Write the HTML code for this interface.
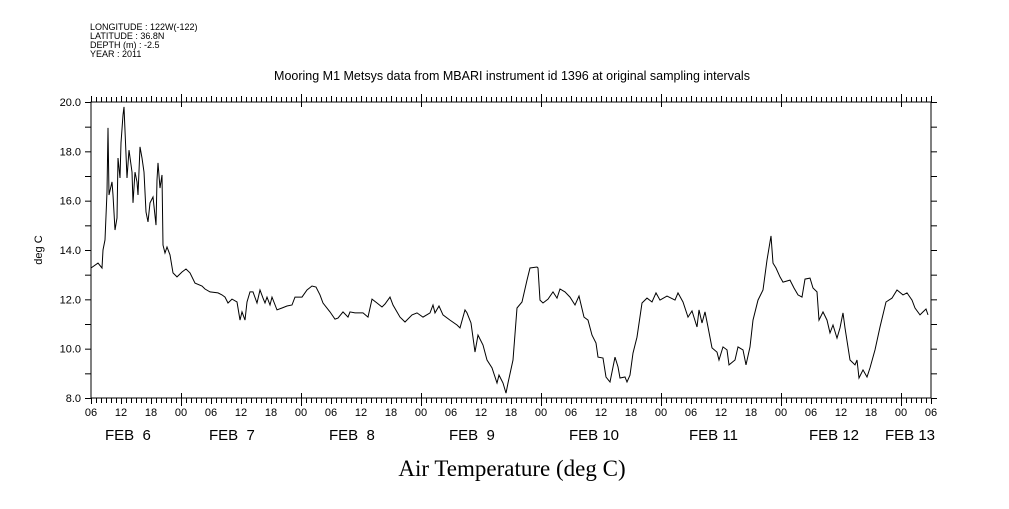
<!DOCTYPE html>
<html><head><meta charset="utf-8"><style>
body{margin:0;background:#fff;}
svg text{font-family:"Liberation Sans",sans-serif;fill:#000;}
</style></head><body>
<svg id="c" width="1009" height="504" xmlns="http://www.w3.org/2000/svg">
<text x="90" y="30" font-size="9">LONGITUDE : 122W(-122)</text>
<text x="90" y="39" font-size="9">LATITUDE : 36.8N</text>
<text x="90" y="48" font-size="9">DEPTH (m) : -2.5</text>
<text x="90" y="57" font-size="9">YEAR : 2011</text>
<text x="512" y="80" font-size="12.5" text-anchor="middle">Mooring M1 Metsys data from MBARI instrument id 1396 at original sampling intervals</text>
<text x="42" y="250" font-size="11" text-anchor="middle" transform="rotate(-90 42 250)">deg C</text>
<text x="512" y="476" font-size="23" text-anchor="middle" style="font-family:'Liberation Serif',serif">Air Temperature (deg C)</text>
<g id="axes"></g>
<path id="line" fill="none" stroke="#000" stroke-width="1"></path>
</svg>
<script>
// hours since Feb 6 06:00
const hours=[0,1.4,2.2,2.4,2.8,3.2,3.4,3.6,4.2,4.4,4.8,5.2,5.4,5.8,6.0,6.4,6.6,7.2,7.6,8.2,8.4,8.8,9.2,9.4,9.8,10.2,10.6,11.0,11.4,11.8,12.4,13.0,13.2,13.4,13.8,14.2,14.4,14.8,15.2,15.8,16.4,17.2,18.2,19.0,19.8,20.8,22.2,22.8,23.8,25.4,26.2,26.8,27.4,28.2,29.2,29.8,30.2,30.8,31.2,31.8,32.4,33.2,33.8,34.4,34.8,35.2,35.8,36.2,37.2,38.2,39.2,40.2,40.8,42.2,43.2,44.2,45.0,45.8,46.4,47.8,48.8,49.4,50.4,51.4,51.8,52.8,54.4,55.4,56.2,57.2,58.2,58.8,59.8,60.4,61.8,62.8,64.2,65.2,66.4,67.8,68.4,68.8,69.6,70.4,71.8,73.2,73.8,74.8,75.2,76.0,76.8,77.4,78.4,79.2,80.2,81.2,81.6,82.4,83.0,83.4,84.4,85.2,86.2,87.2,87.8,89.2,89.4,89.8,90.4,91.4,92.4,93.2,93.8,94.8,95.8,96.8,97.6,98.6,99.4,100.2,101.0,101.4,102.4,103.0,103.8,104.8,105.4,105.8,106.8,107.2,107.8,108.4,109.2,110.2,111.2,112.2,113.0,113.8,115.2,116.8,117.4,118.4,119.4,120.2,121.2,121.6,122.2,122.8,123.4,124.2,125.2,125.6,126.4,127.2,127.6,128.8,129.4,130.4,131.0,131.8,132.4,133.4,134.4,135.2,136.0,136.4,137.0,137.8,138.4,139.8,140.6,141.4,142.2,142.8,143.8,144.4,145.2,145.6,146.4,147.2,147.8,148.4,149.2,149.8,150.4,150.8,151.8,152.8,153.2,153.6,154.4,155.2,155.8,156.8,157.8,159.0,160.2,161.2,162.4,163.2,164.2,164.8,165.8,166.4,167.0,167.4];
const temps=[13.27,13.47,13.27,14.0,14.41,16.35,18.95,16.23,16.76,16.23,14.81,15.30,17.73,16.92,18.34,19.47,19.80,16.92,18.05,17.16,15.91,17.16,16.76,16.23,18.18,17.73,17.16,15.54,15.14,15.91,16.15,15.01,16.84,17.53,16.51,17.04,14.20,13.88,14.12,13.80,13.07,12.91,13.11,13.23,13.07,12.66,12.54,12.42,12.30,12.26,12.18,12.09,11.85,12.01,11.89,11.16,11.49,11.16,11.89,12.30,12.30,11.85,12.38,12.05,11.85,12.09,11.77,12.09,11.57,11.65,11.73,11.77,12.09,12.09,12.38,12.54,12.50,12.18,11.85,11.49,11.20,11.24,11.49,11.28,11.49,11.45,11.45,11.28,12.01,11.85,11.69,11.81,12.09,11.77,11.28,11.08,11.37,11.45,11.28,11.45,11.77,11.45,11.73,11.37,11.16,10.96,10.84,11.57,11.45,11.04,9.86,10.55,10.15,9.54,9.22,8.61,8.93,8.61,8.20,8.61,9.54,11.65,11.89,12.78,13.27,13.31,13.27,11.97,11.85,12.01,12.30,12.05,12.42,12.30,12.09,11.77,12.13,11.28,11.16,10.55,10.23,9.66,9.62,8.85,8.65,9.66,9.26,8.81,8.85,8.65,8.93,9.82,10.47,11.85,12.05,11.89,12.26,11.97,12.13,11.97,12.26,11.89,11.28,11.53,10.88,11.57,11.04,11.49,10.88,10.03,9.86,9.54,10.07,9.95,9.34,9.54,10.07,9.95,9.34,10.07,11.16,11.97,12.38,13.59,14.57,13.47,13.27,12.91,12.70,12.78,12.46,12.18,12.09,12.82,12.86,12.46,12.30,11.16,11.49,11.16,10.64,10.96,10.43,10.84,11.45,10.84,9.54,9.34,9.54,8.81,9.14,8.85,9.22,9.95,10.88,11.89,12.05,12.38,12.18,12.26,11.97,11.65,11.37,11.49,11.61,11.37];
const yTicks=[8.0,10.0,12.0,14.0,16.0,18.0,20.0];
const hourLabels=["06","12","18","00"];
const dayLabels=["FEB  6","FEB  7","FEB  8","FEB  9","FEB 10","FEB 11","FEB 12","FEB 13"];

const L=91,R=931,T=102,B=398,yMin=8,yMax=20,tMax=168;
const X=h=>L+(h/tMax)*(R-L);
const Y=v=>B-(v-yMin)/(yMax-yMin)*(B-T);
const NS="http://www.w3.org/2000/svg";
const axes=document.getElementById('axes');
function ln(x1,y1,x2,y2){const e=document.createElementNS(NS,'line');e.setAttribute('x1',x1);e.setAttribute('y1',y1);e.setAttribute('x2',x2);e.setAttribute('y2',y2);e.setAttribute('stroke','#000');e.setAttribute('stroke-width','1');axes.appendChild(e);return e;}
function tx(x,y,s,size,anchor){const e=document.createElementNS(NS,'text');e.setAttribute('x',x);e.setAttribute('y',y);e.setAttribute('font-size',size);e.setAttribute('text-anchor',anchor);e.textContent=s;axes.appendChild(e);return e;}
const frame=document.createElementNS(NS,'rect');
frame.setAttribute('x',L);frame.setAttribute('y',T);frame.setAttribute('width',R-L);frame.setAttribute('height',B-T);
frame.setAttribute('fill','none');frame.setAttribute('stroke','#000');


axes.appendChild(frame);
for(let h=0;h<=tMax;h++){
  const x=X(h)+0.5;const major=((h+6)%24===0);const six=(h%6===0);
  const len=major?8:(six?6:5);
  ln(x,B,x,B+len);ln(x,T,x,T-len);
  if(major){ln(x,B,x,B-5);ln(x,T,x,T+5);}
  if(six){const t=tx(X(h),416,hourLabels[(h/6)%4],11,'middle');
    
    }
}
for(let v=yMin;v<=yMax;v++){const y=Y(v)+0.5;ln(L-6,y,L,y);ln(R,y,R+6,y);}
yTicks.forEach(v=>{const t=tx(L-10,Y(v)+4,v.toFixed(1),11,'end');
  
  });
dayLabels.forEach((d,i)=>{let x=X(i*24+6)-32;x=Math.max(105,Math.min(885,x));
  const t=tx(x,440,d,15,'start');t.style.whiteSpace='pre';
  
  });
let dstr='';
hours.forEach((h,i)=>{dstr+=(i?'L':'M')+X(h).toFixed(1)+' '+Y(temps[i]).toFixed(1);});
document.getElementById('line').setAttribute('d',dstr);
</script>
</body></html>
